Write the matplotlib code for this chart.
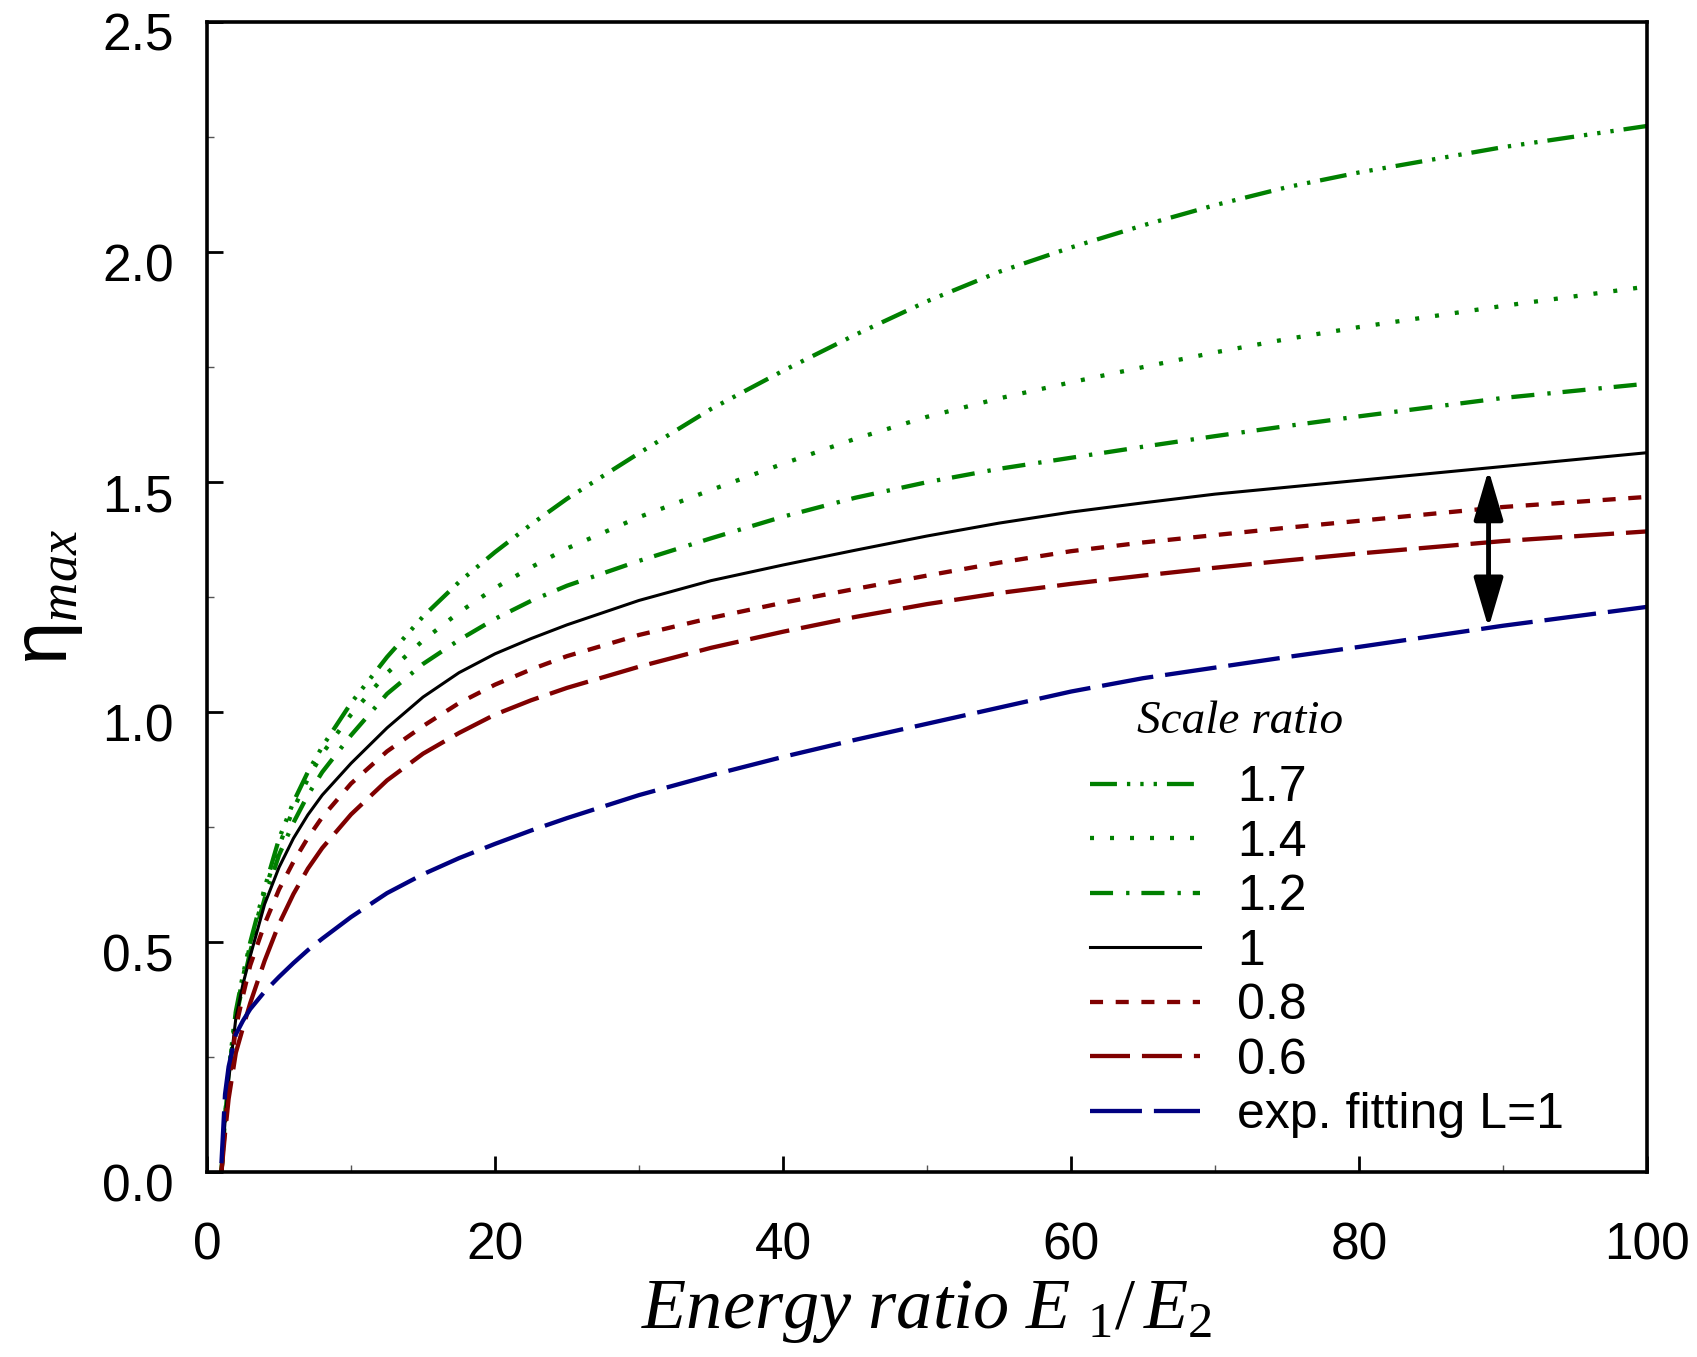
import matplotlib as mpl
mpl.use("Agg")
import matplotlib.pyplot as plt
from matplotlib.ticker import MultipleLocator, FormatStrFormatter
from matplotlib.patches import ArrowStyle
import matplotlib.transforms as mtransforms

mpl.rcParams.update({
    "font.family": "Liberation Sans",
    "mathtext.fontset": "custom",
    "mathtext.rm": "Liberation Serif",
    "mathtext.it": "Liberation Serif:italic",
    "mathtext.sf": "Liberation Sans",
    "lines.scale_dashes": False,
})

# energy ratio E1/E2 (shared x grid)
energy_ratio = [1, 1.25, 1.5, 2, 2.5, 3, 4, 5, 6, 7, 8, 10, 12.5, 15, 17.5, 20, 22.5, 25,
                30, 35, 40, 45, 50, 55, 60, 65, 70, 75, 80, 90, 100]

# eta_max for each scale ratio
eta_17 = [0, 0.12, 0.22, 0.35, 0.43, 0.50, 0.618, 0.725, 0.805, 0.87, 0.925, 1.02, 1.12, 1.208, 1.283,
          1.348, 1.408, 1.464, 1.563, 1.659, 1.742, 1.82, 1.893, 1.957, 2.01, 2.058, 2.102, 2.141,
          2.173, 2.228, 2.274]
eta_14 = [0, 0.12, 0.215, 0.345, 0.425, 0.495, 0.61, 0.71, 0.79, 0.855, 0.91, 0.995, 1.085, 1.156, 1.217,
          1.27, 1.315, 1.356, 1.424, 1.483, 1.54, 1.594, 1.642, 1.682, 1.717, 1.75, 1.782, 1.811,
          1.837, 1.883, 1.925]
eta_12 = [0, 0.115, 0.21, 0.335, 0.41, 0.48, 0.595, 0.69, 0.76, 0.82, 0.87, 0.95, 1.04, 1.105, 1.157,
          1.203, 1.242, 1.275, 1.329, 1.378, 1.425, 1.466, 1.50, 1.529, 1.553, 1.577, 1.60, 1.622,
          1.643, 1.683, 1.714]
eta_10 = [0, 0.11, 0.20, 0.335, 0.41, 0.47, 0.583, 0.663, 0.726, 0.777, 0.82, 0.889, 0.966, 1.033, 1.086,
          1.127, 1.16, 1.19, 1.243, 1.286, 1.32, 1.352, 1.383, 1.411, 1.435, 1.455, 1.474, 1.489,
          1.504, 1.534, 1.564]
eta_08 = [0, 0.10, 0.185, 0.315, 0.385, 0.45, 0.54, 0.615, 0.675, 0.727, 0.772, 0.845, 0.915, 0.97, 1.02,
          1.06, 1.093, 1.122, 1.168, 1.205, 1.238, 1.268, 1.297, 1.325, 1.35, 1.369, 1.385, 1.401,
          1.416, 1.446, 1.468]
eta_06 = [0, 0.085, 0.16, 0.26, 0.315, 0.368, 0.46, 0.54, 0.605, 0.66, 0.705, 0.778, 0.852, 0.91, 0.955,
          0.995, 1.026, 1.053, 1.099, 1.14, 1.175, 1.207, 1.235, 1.259, 1.279, 1.297, 1.314, 1.33,
          1.345, 1.372, 1.393]
eta_exp = [0.02, 0.17, 0.23, 0.30, 0.33, 0.355, 0.393, 0.425, 0.455, 0.483, 0.508, 0.555, 0.607, 0.648,
           0.683, 0.714, 0.743, 0.77, 0.82, 0.863, 0.903, 0.94, 0.975, 1.01, 1.045, 1.074, 1.097, 1.12,
           1.142, 1.188, 1.229]

labels = ["1.7", "1.4", "1.2", "1", "0.8", "0.6", "exp. fitting L=1"]

# double arrow marking the gap between the L=1 model and the fit
arrow_x = 89
arrow_low = 1.183
arrow_high = 1.527

GREEN = "#008000"
DARKRED = "#800000"
NAVY = "#000080"

series = [
    (eta_17, GREEN, (0, (19.4, 7.2, 2.4, 7.2, 2.4, 7.2, 2.4, 7.2)), 3.1),
    (eta_14, GREEN, (0, (2.9, 11.5)), 3.1),
    (eta_12, GREEN, (0, (16.6, 9.4, 2.4, 8.6)), 3.1),
    (eta_10, "black", "-", 2.2),
    (eta_08, DARKRED, (0, (9.4, 9.1)), 3.1),
    (eta_06, DARKRED, (0, (28.8, 8.6)), 3.1),
    (eta_exp, NAVY, (0, (37.4, 8.6)), 3.1),
]

fig = plt.figure(figsize=(16.97, 13.57), dpi=100)
ax = fig.add_axes([0.1220, 0.1360, 0.8485, 0.8478])

for (vals, col, ls, lw), lab in zip(series, labels):
    ax.plot(energy_ratio, vals, color=col, linestyle=ls, linewidth=lw, label=lab,
            dash_capstyle="butt")

ax.annotate("", xy=(arrow_x, arrow_high), xytext=(arrow_x, arrow_low),
            arrowprops=dict(arrowstyle=ArrowStyle("<|-|>", head_length=1.7, head_width=0.5),
                            mutation_scale=18, color="black", lw=3.5,
                            shrinkA=0, shrinkB=0))

ax.set_xlim(0, 100)
ax.set_ylim(0, 2.5)
ax.xaxis.set_major_locator(MultipleLocator(20))
ax.xaxis.set_minor_locator(MultipleLocator(10))
ax.yaxis.set_major_locator(MultipleLocator(0.5))
ax.yaxis.set_minor_locator(MultipleLocator(0.25))
ax.xaxis.set_major_formatter(FormatStrFormatter("%d"))
ax.yaxis.set_major_formatter(FormatStrFormatter("%.1f"))

for s in ax.spines.values():
    s.set_linewidth(2.6)
ax.tick_params(which="both", direction="in", top=False, right=False, labelsize=37)
ax.tick_params(which="major", length=11.5, width=2.0, color="black")
ax.tick_params(which="minor", length=5, width=1.0, color="#555555")
ax.tick_params(axis="x", which="major", pad=35)
ax.tick_params(axis="y", which="major", pad=24)

# y tick labels sit slightly below their ticks in the original
offset = mtransforms.ScaledTranslation(0, -10 / 100, fig.dpi_scale_trans)
for lbl in ax.get_yticklabels():
    lbl.set_transform(lbl.get_transform() + offset)

ax.set_xlabel(r"$Energy\ ratio\ E\ {}_{\mathit{1}}/\,E_{2}$", fontsize=52, labelpad=6)
ax.set_ylabel(r"$\mathsf{\eta}_{max}$", fontsize=56, labelpad=12)

leg = ax.legend(loc="upper left", bbox_to_anchor=(0.6132, 0.354), frameon=False,
                fontsize=36, handlelength=2.2, handletextpad=0.74, labelspacing=0.17,
                borderpad=0, borderaxespad=0)

ax.text(0.6458, 0.3823, "Scale ratio", transform=ax.transAxes, fontsize=34,
        family="Liberation Serif", style="italic", va="baseline", ha="left")

fig.savefig("out.png", dpi=100)
